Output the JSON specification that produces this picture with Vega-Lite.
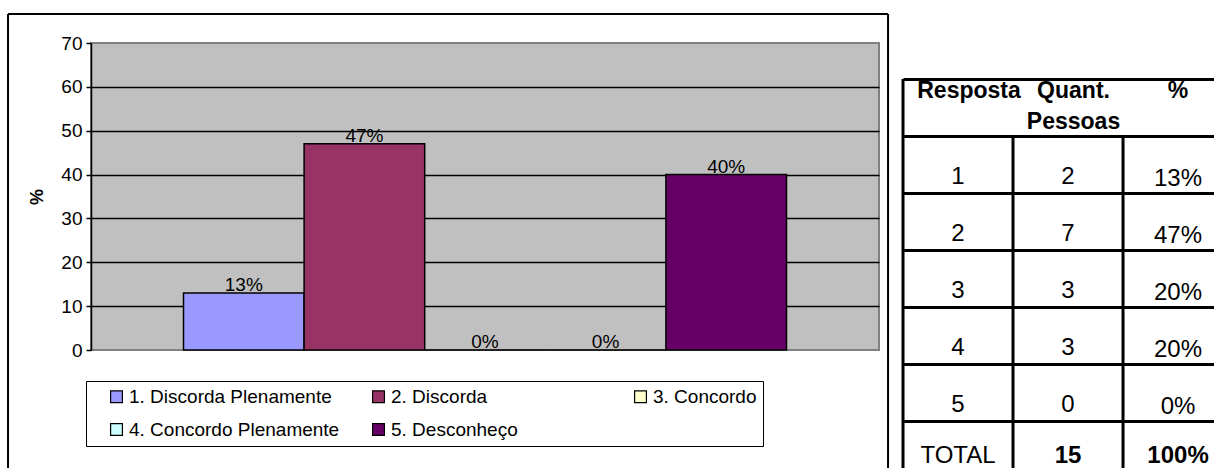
{
  "$schema": "https://vega.github.io/schema/vega-lite/v6.json",
  "padding": {"left": 6, "top": 12, "right": 0, "bottom": 0},
  "background": "white",
  "bounds": "flush",
  "spacing": 24,
  "config": {
    "font": "Liberation Sans",
    "text": {"font": "Liberation Sans", "color": "black"}
  },
  "datasets": {
    "respostas": [
      {"n": 1, "serie": "1. Discorda Plenamente", "pct": 13, "rotulo": "13%"},
      {"n": 2, "serie": "2. Discorda", "pct": 47, "rotulo": "47%"},
      {"n": 3, "serie": "3. Concordo", "pct": 0, "rotulo": "0%"},
      {"n": 4, "serie": "4. Concordo Plenamente", "pct": 0, "rotulo": "0%"},
      {"n": 5, "serie": "5. Desconheço", "pct": 40, "rotulo": "40%"}
    ],
    "tabela": [
      {"linha": 1, "resposta": "1", "quant": 2, "perc": "13%"},
      {"linha": 2, "resposta": "2", "quant": 7, "perc": "47%"},
      {"linha": 3, "resposta": "3", "quant": 3, "perc": "20%"},
      {"linha": 4, "resposta": "4", "quant": 3, "perc": "20%"},
      {"linha": 5, "resposta": "5", "quant": 0, "perc": "0%"},
      {"linha": 6, "resposta": "TOTAL", "quant": 15, "perc": "100%"}
    ],
    "moldura": [{}]
  },
  "hconcat": [
    {
      "width": 788,
      "height": 307,
      "view": {"fill": "#C0C0C0", "stroke": "#808080", "strokeWidth": 2},
      "layer": [
        {
          "data": {"name": "respostas"},
          "mark": {"type": "bar", "size": 120.6, "orient": "vertical", "stroke": "black", "strokeWidth": 1.5},
          "encoding": {
            "x": {"field": "n", "type": "quantitative", "scale": {"domain": [-0.267, 6.267], "nice": false, "zero": false, "padding": 0}, "axis": null},
            "y": {
              "field": "pct", "type": "quantitative", "stack": null,
              "scale": {"domain": [0, 70], "nice": false},
              "axis": {
                "values": [0, 10, 20, 30, 40, 50, 60, 70],
                "title": "%", "titleFontSize": 18, "titleFontWeight": "bold", "titleColor": "black", "titlePadding": 14,
                "labelFontSize": 19, "labelColor": "black", "labelPadding": 4,
                "tickSize": 5, "tickColor": "black", "tickWidth": 1.5,
                "domainColor": "black", "domainWidth": 1.5,
                "grid": true,
                "gridColor": {"condition": {"test": "datum.value == 0 || datum.value == 70", "value": "transparent"}, "value": "black"},
                "gridWidth": 1.5
              }
            },
            "color": {
              "field": "serie", "type": "nominal",
              "scale": {
                "domain": ["1. Discorda Plenamente", "2. Discorda", "3. Concordo", "4. Concordo Plenamente", "5. Desconheço"],
                "range": ["#9999FF", "#993366", "#FFFFCC", "#CCFFFF", "#660066"]
              },
              "legend": {
                "orient": "none", "legendX": -5, "legendY": 338,
                "direction": "horizontal", "columns": 3, "title": null,
                "strokeColor": "black", "fillColor": "white", "padding": 6,
                "symbolType": "square", "symbolSize": 140, "symbolStrokeColor": "black", "symbolStrokeWidth": 1.2,
                "symbolOffset": 15,
                "labelFontSize": 19, "labelFont": "Liberation Sans", "labelColor": "black", "labelOffset": 3, "labelLimit": 400,
                "columnPadding": 14, "rowPadding": 13, "gridAlign": "all"
              }
            }
          }
        },
        {
          "data": {"name": "respostas"},
          "mark": {"type": "text", "baseline": "alphabetic", "dy": -2, "fontSize": 19, "color": "black"},
          "encoding": {
            "x": {"field": "n", "type": "quantitative", "scale": {"domain": [-0.267, 6.267], "nice": false, "zero": false, "padding": 0}, "axis": null},
            "y": {"field": "pct", "type": "quantitative", "scale": {"domain": [0, 70], "nice": false}},
            "text": {"field": "rotulo"}
          }
        },
        {
          "data": {"name": "moldura"},
          "mark": {"type": "rule", "clip": false, "color": "black", "strokeWidth": 2},
          "encoding": {
            "x": {"datum": -0.955, "type": "quantitative", "scale": {"domain": [-0.267, 6.267], "nice": false, "zero": false, "padding": 0}, "axis": null},
            "y": {"datum": -26.9, "type": "quantitative", "scale": {"domain": [0, 70], "nice": false}},
            "y2": {"datum": 76.6}
          }
        },
        {
          "data": {"name": "moldura"},
          "mark": {"type": "rule", "clip": false, "color": "black", "strokeWidth": 2},
          "encoding": {
            "x": {"datum": -0.955, "type": "quantitative", "scale": {"domain": [-0.267, 6.267], "nice": false, "zero": false, "padding": 0}, "axis": null},
            "x2": {"datum": 6.342},
            "y": {"datum": 76.6, "type": "quantitative", "scale": {"domain": [0, 70], "nice": false}}
          }
        },
        {
          "data": {"name": "moldura"},
          "mark": {"type": "rule", "clip": false, "color": "black", "strokeWidth": 2},
          "encoding": {
            "x": {"datum": 6.342, "type": "quantitative", "scale": {"domain": [-0.267, 6.267], "nice": false, "zero": false, "padding": 0}, "axis": null},
            "y": {"datum": -26.9, "type": "quantitative", "scale": {"domain": [0, 70], "nice": false}},
            "y2": {"datum": 76.6}
          }
        }
      ]
    },
    {
      "width": 312,
      "height": 426,
      "view": {"stroke": null},
      "layer": [
        {
          "data": {"name": "tabela"},
          "mark": {"type": "text", "baseline": "alphabetic", "dy": 48, "fontSize": 24},
          "transform": [{"filter": "datum.linha < 6"}],
          "encoding": {
            "x": {"datum": 0.5, "type": "quantitative", "scale": {"domain": [0, 2.836], "nice": false, "zero": false}, "axis": null},
            "y": {
              "field": "linha", "type": "quantitative",
              "scale": {"domain": [-0.632, 6.842], "nice": false, "zero": false, "reverse": true},
              "axis": {"values": [0, 1, 2, 3, 4, 5, 6], "grid": true, "gridColor": "black", "gridWidth": 3, "labels": false, "ticks": false, "domain": false, "title": null}
            },
            "text": {"field": "resposta"}
          }
        },
        {
          "data": {"name": "tabela"},
          "mark": {"type": "text", "baseline": "alphabetic", "dy": 48, "fontSize": 24},
          "transform": [{"filter": "datum.linha < 6"}],
          "encoding": {
            "x": {"datum": 1.5, "type": "quantitative", "scale": {"domain": [0, 2.836], "nice": false, "zero": false}, "axis": null},
            "y": {"field": "linha", "type": "quantitative", "scale": {"domain": [-0.632, 6.842], "nice": false, "zero": false, "reverse": true}},
            "text": {"field": "quant"}
          }
        },
        {
          "data": {"name": "tabela"},
          "mark": {"type": "text", "baseline": "alphabetic", "dy": 50, "fontSize": 24},
          "transform": [{"filter": "datum.linha < 6"}],
          "encoding": {
            "x": {"datum": 2.5, "type": "quantitative", "scale": {"domain": [0, 2.836], "nice": false, "zero": false}, "axis": null},
            "y": {"field": "linha", "type": "quantitative", "scale": {"domain": [-0.632, 6.842], "nice": false, "zero": false, "reverse": true}},
            "text": {"field": "perc"}
          }
        },
        {
          "data": {"name": "tabela"},
          "mark": {"type": "text", "baseline": "alphabetic", "dy": 42, "fontSize": 24},
          "transform": [{"filter": "datum.linha == 6"}],
          "encoding": {
            "x": {"datum": 0.5, "type": "quantitative", "scale": {"domain": [0, 2.836], "nice": false, "zero": false}, "axis": null},
            "y": {"field": "linha", "type": "quantitative", "scale": {"domain": [-0.632, 6.842], "nice": false, "zero": false, "reverse": true}},
            "text": {"field": "resposta"}
          }
        },
        {
          "data": {"name": "tabela"},
          "mark": {"type": "text", "baseline": "alphabetic", "dy": 42, "fontSize": 24, "fontWeight": "bold"},
          "transform": [{"filter": "datum.linha == 6"}],
          "encoding": {
            "x": {"datum": 1.5, "type": "quantitative", "scale": {"domain": [0, 2.836], "nice": false, "zero": false}, "axis": null},
            "y": {"field": "linha", "type": "quantitative", "scale": {"domain": [-0.632, 6.842], "nice": false, "zero": false, "reverse": true}},
            "text": {"field": "quant"}
          }
        },
        {
          "data": {"name": "tabela"},
          "mark": {"type": "text", "baseline": "alphabetic", "dy": 42, "fontSize": 24, "fontWeight": "bold"},
          "transform": [{"filter": "datum.linha == 6"}],
          "encoding": {
            "x": {"datum": 2.5, "type": "quantitative", "scale": {"domain": [0, 2.836], "nice": false, "zero": false}, "axis": null},
            "y": {"field": "linha", "type": "quantitative", "scale": {"domain": [-0.632, 6.842], "nice": false, "zero": false, "reverse": true}},
            "text": {"field": "perc"}
          }
        },
        {
          "data": {"name": "moldura"},
          "mark": {"type": "text", "baseline": "alphabetic", "dy": 19, "fontSize": 23, "fontWeight": "bold", "text": "Resposta"},
          "encoding": {
            "x": {"datum": 0.6, "type": "quantitative", "scale": {"domain": [0, 2.836], "nice": false, "zero": false}, "axis": null},
            "y": {"datum": 0, "type": "quantitative", "scale": {"domain": [-0.632, 6.842], "nice": false, "zero": false, "reverse": true}}
          }
        },
        {
          "data": {"name": "moldura"},
          "mark": {"type": "text", "baseline": "alphabetic", "dy": 19, "fontSize": 23, "fontWeight": "bold", "text": "Quant.\nPessoas", "lineBreak": "\n", "lineHeight": 31},
          "encoding": {
            "x": {"datum": 1.55, "type": "quantitative", "scale": {"domain": [0, 2.836], "nice": false, "zero": false}, "axis": null},
            "y": {"datum": 0, "type": "quantitative", "scale": {"domain": [-0.632, 6.842], "nice": false, "zero": false, "reverse": true}}
          }
        },
        {
          "data": {"name": "moldura"},
          "mark": {"type": "text", "baseline": "alphabetic", "dy": 19, "fontSize": 23, "fontWeight": "bold", "text": "%"},
          "encoding": {
            "x": {"datum": 2.5, "type": "quantitative", "scale": {"domain": [0, 2.836], "nice": false, "zero": false}, "axis": null},
            "y": {"datum": 0, "type": "quantitative", "scale": {"domain": [-0.632, 6.842], "nice": false, "zero": false, "reverse": true}}
          }
        },
        {
          "data": {"name": "moldura"},
          "mark": {"type": "rule", "color": "black", "strokeWidth": 3},
          "encoding": {
            "x": {"datum": 0, "type": "quantitative", "scale": {"domain": [0, 2.836], "nice": false, "zero": false}, "axis": null},
            "y": {"datum": 0, "type": "quantitative", "scale": {"domain": [-0.632, 6.842], "nice": false, "zero": false, "reverse": true}},
            "y2": {"datum": 6.842}
          }
        },
        {
          "data": {"name": "moldura"},
          "mark": {"type": "rule", "color": "black", "strokeWidth": 3},
          "encoding": {
            "x": {"datum": 1, "type": "quantitative", "scale": {"domain": [0, 2.836], "nice": false, "zero": false}, "axis": null},
            "y": {"datum": 1, "type": "quantitative", "scale": {"domain": [-0.632, 6.842], "nice": false, "zero": false, "reverse": true}},
            "y2": {"datum": 6.842}
          }
        },
        {
          "data": {"name": "moldura"},
          "mark": {"type": "rule", "color": "black", "strokeWidth": 3},
          "encoding": {
            "x": {"datum": 2, "type": "quantitative", "scale": {"domain": [0, 2.836], "nice": false, "zero": false}, "axis": null},
            "y": {"datum": 1, "type": "quantitative", "scale": {"domain": [-0.632, 6.842], "nice": false, "zero": false, "reverse": true}},
            "y2": {"datum": 6.842}
          }
        }
      ]
    }
  ]
}
